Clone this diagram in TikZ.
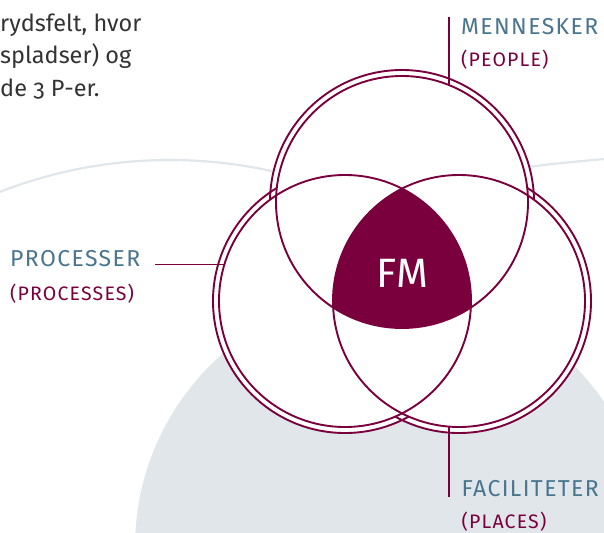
\documentclass[tikz,border=0pt]{standalone}
\usepackage{fontspec}
\setmainfont{Fira Sans}[Numbers=OldStyle]
\newfontfamily\lblfont{Fira Sans}[LetterSpace=6]

\definecolor{fmred}{RGB}{122,0,61}
\definecolor{fmblue}{RGB}{74,117,143}
\definecolor{fmgrey}{RGB}{224,230,234}
\definecolor{txtgrey}{RGB}{51,51,51}

\tikzset{
  ring/.style={draw=fmred, line width=1.9pt},
  lead/.style={draw=fmred, line width=1.8pt},
  lbl/.style={text=fmblue, font=\lblfont\fontsize{23}{23}\selectfont, inner sep=0pt},
  sub/.style={text=fmred, font=\lblfont\fontsize{19.5}{19.5}\selectfont, inner sep=0pt},
  body/.style={text=txtgrey, font=\fontsize{23.5}{23.5}\selectfont, inner sep=0pt},
}

\begin{document}
\begin{tikzpicture}[x=1pt,y=-1pt]
  \useasboundingbox (0,0) rectangle (604,532);
  \clip (0,0) rectangle (604,532);
  % background
  \fill[fmgrey] (392,547) circle (257);
  \draw[fmgrey, line width=2.2pt] (170,628) circle (468);
  \draw[fmgrey, line width=2.2pt] (490,173) .. controls (540,165) .. (604,159);
  % the three circles
  \coordinate (T) at (402,202);
  \coordinate (L) at (345,301);
  \coordinate (R) at (459,301);
  \foreach \p in {T,L,R} \fill[white] (\p) circle (132);
  \foreach \p in {T,L,R} \draw[ring] (\p) circle (132);
  \foreach \p in {T,L,R} \fill[white] (\p) circle (126);
  \begin{scope}
    \clip (T) circle (126);
    \clip (L) circle (126);
    \fill[fmred] (R) circle (126);
  \end{scope}
  \foreach \p in {T,L,R} \draw[ring] (\p) circle (126);
  \node[text=white, font=\fontsize{41}{41}\selectfont, inner sep=0pt] (fm) at (402.5,273.5) {FM};
  % text top left
  \node[body, anchor=base west] (txta) at (0,32) {rydsfelt, hvor};
  \node[body, anchor=base west] (txtb) at (0,64) {spladser) og};
  \node[body, anchor=base west] (txtc) at (0,96) {de 3 P-er.};
  % labels
  \node[lbl, anchor=base west] (men) at (461,35) {MENNESKER};
  \node[sub, anchor=base west] (peo) at (461,67) {(PEOPLE)};
  \node[lbl, anchor=base west] (pro) at (10,266.5) {PROCESSER};
  \node[sub, anchor=base west] (pros) at (10,300) {(PROCESSES)};
  \node[lbl, anchor=base west] (fac) at (461.5,496.5) {FACILITETER};
  \node[sub, anchor=base west] (pla) at (461.5,528) {(PLACES)};
  % leaders
  \coordinate (menpt) at (449,85);
  \coordinate (mentop) at (449,17);
  \coordinate (propt) at (224,264.5);
  \coordinate (proend) at (155,264.5);
  \coordinate (facpt) at (449,427);
  \coordinate (facend) at (449,497);
  \draw[lead] (menpt) -- (mentop);
  \draw[lead] (propt) -- (proend);
  \draw[lead] (facpt) -- (facend);
\end{tikzpicture}
\end{document}
